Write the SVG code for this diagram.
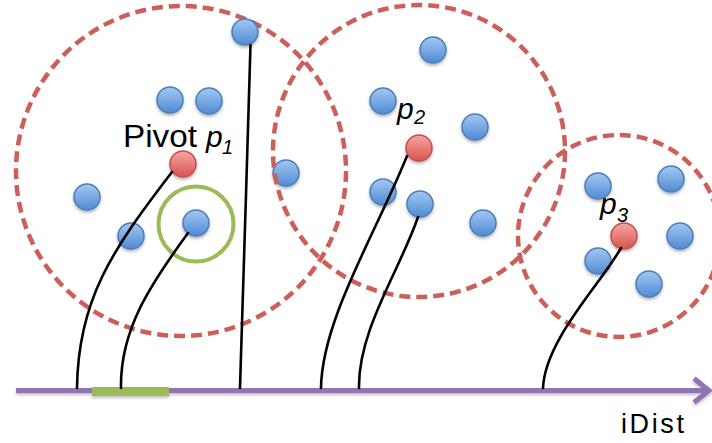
<svg xmlns="http://www.w3.org/2000/svg" width="712" height="443" viewBox="0 0 712 443">
  <defs>
    <linearGradient id="blueFill" x1="0" y1="0" x2="0" y2="1">
      <stop offset="0" stop-color="#a3c8f2"/>
      <stop offset="1" stop-color="#4f8bd3"/>
    </linearGradient>
    <linearGradient id="redFill" x1="0" y1="0" x2="0" y2="1">
      <stop offset="0" stop-color="#f5a6a2"/>
      <stop offset="1" stop-color="#d9544f"/>
    </linearGradient>
    <filter id="shadow" x="-40%" y="-40%" width="180%" height="180%">
      <feDropShadow dx="0" dy="2" stdDeviation="1.5" flood-color="#000" flood-opacity="0.3"/>
    </filter>
    <filter id="axisShadow" filterUnits="userSpaceOnUse" x="0" y="360" width="712" height="60">
      <feDropShadow dx="0" dy="2" stdDeviation="1.5" flood-color="#000" flood-opacity="0.25"/>
    </filter>
  </defs>
  <style>
    .range { fill: none; stroke: #cd5f5a; stroke-width: 4.5; stroke-dasharray: 11 6; }
    .pt { fill: url(#blueFill); stroke: #4a7ebb; stroke-width: 1.5; filter: url(#shadow); }
    .pivot { fill: url(#redFill); stroke: #c0504d; stroke-width: 1.5; filter: url(#shadow); }
    .link { fill: none; stroke: #000; stroke-width: 2.6; stroke-linecap: round; }
    .axis { fill: none; stroke: #8f76b2; stroke-width: 5; }
    .lbl { font-family: "Liberation Sans", Arial, sans-serif; fill: #000; }
    .it { font-style: italic; }
  </style>

  <rect width="712" height="443" fill="#fff"/>

  <!-- range of pivot p1 -->
  <g id="range-p1"><circle class="range" cx="181" cy="171" r="165"/></g>

  <!-- data points -->
  <g id="points">
    <circle class="pt" cx="245" cy="32" r="13"/>
    <circle class="pt" cx="170" cy="100" r="13"/>
    <circle class="pt" cx="209" cy="101" r="13"/>
    <circle class="pt" cx="87" cy="197" r="13"/>
    <circle class="pt" cx="131" cy="236" r="13"/>
    <circle class="pt" cx="196" cy="223" r="13"/>
    <circle class="pt" cx="286" cy="173" r="13"/>
    <circle class="pt" cx="433" cy="50" r="13"/>
    <circle class="pt" cx="383" cy="101" r="13"/>
    <circle class="pt" cx="475" cy="127" r="13"/>
    <circle class="pt" cx="383" cy="192" r="13"/>
    <circle class="pt" cx="420" cy="204" r="13"/>
    <circle class="pt" cx="483" cy="223" r="13"/>
    <circle class="pt" cx="598" cy="186" r="13"/>
    <circle class="pt" cx="671" cy="179" r="13"/>
    <circle class="pt" cx="680" cy="236" r="13"/>
    <circle class="pt" cx="598" cy="261" r="13"/>
    <circle class="pt" cx="649" cy="284" r="13"/>
  </g>

  <!-- ranges of pivots p2 and p3 -->
  <g id="range-p2"><circle class="range" cx="419" cy="151" r="146"/></g>
  <g id="range-p3"><circle class="range" cx="619" cy="236" r="101"/></g>

  <!-- query point highlight -->
  <g id="query"><circle cx="196" cy="224" r="37.5" fill="none" stroke="#9bbb59" stroke-width="4"/></g>

  <!-- pivots -->
  <g id="pivot-p1"><circle class="pivot" cx="183" cy="164" r="13"/></g>
  <g id="pivot-p2"><circle class="pivot" cx="419" cy="148" r="13"/></g>
  <g id="pivot-p3"><circle class="pivot" cx="624" cy="236" r="13"/></g>

  <!-- iDist axis -->
  <g id="axis" filter="url(#axisShadow)">
    <path class="axis" d="M16,390.5 H708 M694,378.5 L709,390.5 L694,402.5" stroke-linejoin="miter"/>
    <rect x="92" y="387" width="77" height="9" fill="#9bbb59"/>
  </g>

  <!-- mappings of points onto the axis -->
  <g id="connectors">
    <path class="link" d="M172,172 C112,250 78,300 77,388"/>
    <path class="link" d="M188,233 C150,285 120,330 121,388"/>
    <path class="link" d="M250.5,45 C248,150 242,300 240,388"/>
    <path class="link" d="M407,156 C375,235 322,320 321,388"/>
    <path class="link" d="M418,217 C400,270 358,330 359,388"/>
    <path class="link" d="M621,248 C600,285 545,340 543,388"/>
  </g>

  <!-- labels -->
  <g id="labels">
    <text class="lbl" x="123" y="147" font-size="31" textLength="74" lengthAdjust="spacingAndGlyphs">Pivot</text>
    <text class="lbl it" x="206" y="147" font-size="30">p</text>
    <text class="lbl it" x="222" y="154" font-size="20">1</text>
    <text class="lbl it" x="397" y="119" font-size="30">p</text>
    <text class="lbl it" x="414" y="124" font-size="20">2</text>
    <text class="lbl it" x="600" y="214" font-size="30">p</text>
    <text class="lbl it" x="617" y="222" font-size="20">3</text>
    <text class="lbl" x="621" y="433" font-size="27" textLength="63" lengthAdjust="spacing">iDist</text>
  </g>
</svg>
